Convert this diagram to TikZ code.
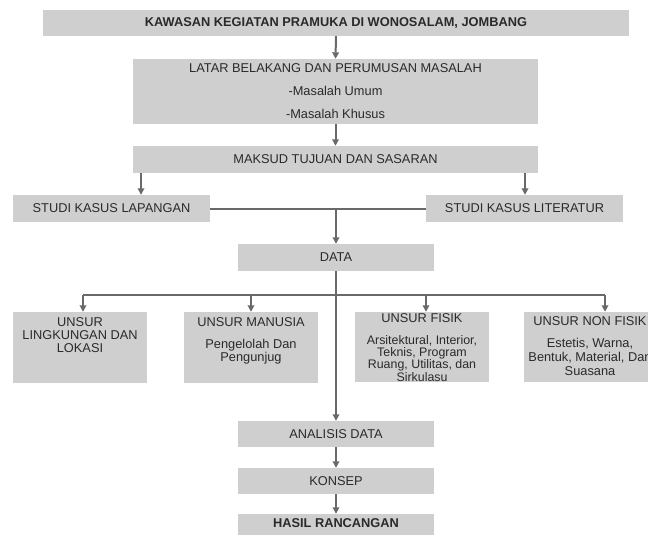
\documentclass[tikz,border=0pt]{standalone}
\usepackage{fontspec}
\setmainfont{Liberation Sans}
\usetikzlibrary{arrows.meta}
\definecolor{boxgray}{HTML}{CFCFCF}
\definecolor{linegray}{HTML}{696969}
\definecolor{txtgray}{HTML}{2A2A2A}
\tikzset{
  flowbox/.style={fill=boxgray, draw=none, inner sep=0pt, text=txtgray, align=center,
    font=\fontsize{12.8}{23}\selectfont},
  boxtext/.style={inner sep=0pt, text=txtgray, align=center, anchor=north,
    font=\fontsize{12.8}{13}\selectfont},
  conn/.style={draw=linegray, line width=2pt},
  arr/.style={conn, -{Triangle[width=6.5pt,length=6.5pt]}}
}
\begin{document}
\begin{tikzpicture}[x=1pt,y=-1pt]
\useasboundingbox (0,0) rectangle (648,535);
% boxes
\node[flowbox, minimum width=586pt, minimum height=26pt] (top) at (336,23) {\textbf{KAWASAN KEGIATAN PRAMUKA DI WONOSALAM, JOMBANG}};
\node[flowbox, minimum width=405pt, minimum height=65pt] (latar) at (335.5,91.5) {LATAR BELAKANG DAN PERUMUSAN MASALAH\\-Masalah Umum\\-Masalah Khusus};
\node[flowbox, minimum width=405pt, minimum height=27pt] (maksud) at (335.5,159.5) {MAKSUD TUJUAN DAN SASARAN};
\node[flowbox, minimum width=197pt, minimum height=27pt] (studiL) at (111.5,208.5) {STUDI KASUS LAPANGAN};
\node[flowbox, minimum width=197pt, minimum height=27pt] (studiR) at (524.5,208.5) {STUDI KASUS LITERATUR};
\node[flowbox, minimum width=196pt, minimum height=27pt] (data) at (336,257.5) {DATA};
\node[flowbox, minimum width=134pt, minimum height=71pt] (u1) at (80,347.5) {};
\node[flowbox, minimum width=134pt, minimum height=71pt] (u2) at (251,347.5) {};
\node[flowbox, minimum width=134pt, minimum height=70pt] (u3) at (422,347) {};
\node[flowbox, minimum width=134pt, minimum height=70pt] (u4) at (591,347) {};
\node[flowbox, minimum width=196pt, minimum height=26pt] (analisis) at (336,434) {ANALISIS DATA};
\node[flowbox, minimum width=196pt, minimum height=26pt] (konsep) at (336,481) {KONSEP};
\node[flowbox, minimum width=196pt, minimum height=26pt] (hasil) at (336,527) {};
\node[inner sep=0pt, text=txtgray, font=\fontsize{12.8}{14}\selectfont\bfseries] (hasilt) at (336,523) {HASIL RANCANGAN};
% texts in the element boxes
\node[boxtext] (u1t) at (80,317.4) {UNSUR\\LINGKUNGAN DAN\\LOKASI};
\node[boxtext] (u2t) at (251,317.4) {UNSUR MANUSIA\\[9pt]Pengelolah Dan\\Pengunjug};
\node[boxtext] (u3t) at (422,313.4) {UNSUR FISIK};
\node[boxtext, font=\fontsize{12.4}{9.3}\selectfont] (u3b) at (422,335.6) {Arsitektural, Interior,\\Teknis, Program\\Ruang, Utilitas, dan\\Sirkulasu};
\node[boxtext, font=\fontsize{12.8}{14}\selectfont] (u4t) at (590,316.4) {UNSUR NON FISIK\\[8pt]Estetis, Warna,\\Bentuk, Material, Dan\\Suasana};
% connectors
\coordinate (aL) at (141,0);
\coordinate (aR) at (525,0);
\coordinate (b1) at (83,295);
\coordinate (b2) at (251,295);
\coordinate (b3) at (426,295);
\coordinate (b4) at (605,295);
\draw[arr] (top.south) -- (latar.north);
\draw[arr] (latar.south) -- (maksud.north);
\draw[arr] (maksud.south -| aL) -- (studiL.north -| aL);
\draw[arr] (maksud.south -| aR) -- (studiR.north -| aR);
\draw[conn] (studiL.east) -- (studiR.west);
\draw[arr] (data.north |- studiL.east) -- (data.north);
\draw[arr] (data.south) -- (analisis.north);
\draw[conn] (b1) -- (b4);
\draw[arr] (b1) -- (b1 |- u1.north);
\draw[arr] (b2) -- (b2 |- u2.north);
\draw[arr] (b3) -- (b3 |- u3.north);
\draw[arr] (b4) -- (b4 |- u4.north);
\draw[arr] (analisis.south) -- (konsep.north);
\draw[arr] (konsep.south) -- (hasil.north);
\end{tikzpicture}
\end{document}
